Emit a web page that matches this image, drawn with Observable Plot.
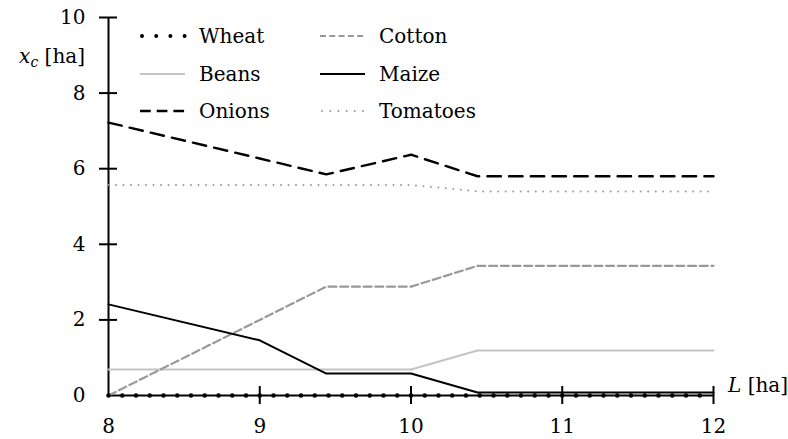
<!DOCTYPE html>
<html>
<head>
<meta charset="utf-8">
<script src="https://cdn.jsdelivr.net/npm/d3@7"></script>
<script src="https://cdn.jsdelivr.net/npm/@observablehq/plot@0.6"></script>
<style>
  html, body { margin: 0; padding: 0; background: #fff; }
  #chart { width: 788px; height: 439px; }
</style>
</head>
<body>
<div id="chart"></div>
<script>
// ---- data ----
const L = [8, 9, 9.44, 10, 10.44, 12];
const wheat    = [0, 0, 0, 0, 0, 0];
const beans    = [0.69, 0.69, 0.69, 0.69, 1.19, 1.19];
const onions   = [7.22, 6.27, 5.85, 6.37, 5.80, 5.80];
const cotton   = [0, 2.0, 2.88, 2.88, 3.43, 3.43];
const maize    = [2.41, 1.46, 0.58, 0.58, 0.08, 0.08];
const tomatoes = [5.57, 5.57, 5.57, 5.57, 5.40, 5.40];
const xTicks = [8, 9, 10, 11, 12];
const yTicks = [0, 2, 4, 6, 8, 10];

const seriesNames = ["Wheat", "Cotton", "Beans", "Maize", "Onions", "Tomatoes"];
const seriesVals = {Wheat: wheat, Cotton: cotton, Beans: beans, Maize: maize, Onions: onions, Tomatoes: tomatoes};

const styles = {
  Wheat:    {stroke: "#000", strokeWidth: 4.6, strokeDasharray: "0,13.75", strokeLinecap: "round"},
  Beans:    {stroke: "#c4c4c4", strokeWidth: 2},
  Onions:   {stroke: "#000", strokeWidth: 2.4, strokeDasharray: "13.5,8.2"},
  Cotton:   {stroke: "#999", strokeWidth: 2.2, strokeDasharray: "8,3.7"},
  Maize:    {stroke: "#000", strokeWidth: 2},
  Tomatoes: {stroke: "#999", strokeWidth: 2, strokeDasharray: "0,7.5", strokeLinecap: "round"}
};
const legendStyles = {
  Onions: {strokeDasharray: "10.7,6"},
  Cotton: {strokeDasharray: "6,3.3"},
  Tomatoes: {strokeDasharray: "0,8.2"},
  Wheat: {strokeDasharray: "0,14.2"}
};

const rows = seriesNames.map(name => L.map((x, i) => ({L: x, v: seriesVals[name][i], name})));

const drawOrder = ["Beans", "Tomatoes", "Cotton", "Onions", "Maize", "Wheat"];

const plot = Plot.plot({
  width: 788,
  height: 439,
  marginLeft: 108,
  marginRight: 75,
  marginTop: 17,
  marginBottom: 44,
  style: {fontFamily: "'DejaVu Serif', serif", fontSize: "20px", color: "#000", background: "#fff"},
  x: {domain: [8, 12]},
  y: {domain: [0, 10]},
  marks: [
    Plot.ruleX([8], {y1: 0, y2: 10, stroke: "#000", strokeWidth: 2}),
    Plot.ruleY([0], {x1: 8, x2: 12, stroke: "#000", strokeWidth: 2}),
    Plot.axisY(yTicks.filter(d => d > 0), {tickSize: 18, dx: 9, strokeWidth: 2, tickFormat: () => "", label: null}),
    Plot.axisX(xTicks.filter(d => d > 8), {tickSize: 18, dy: -9, strokeWidth: 2, tickFormat: () => "", label: null}),
    Plot.axisY(yTicks, {tickSize: 0, tickPadding: 23, label: null, fontSize: 20, tickFormat: d3.format("d")}),
    Plot.axisX(xTicks, {tickSize: 0, tickPadding: 23, label: null, fontSize: 20, tickFormat: d3.format("d")}),
    ...drawOrder.map(name => Plot.line(rows[seriesNames.indexOf(name)], {x: "L", y: "v", ...styles[name]}))
  ]
});
document.getElementById("chart").appendChild(plot);

// ---- axis titles and legend (layout only) ----
const svg = d3.select(plot);
const fam = "'DejaVu Serif', serif";
const yl = svg.append("text").attr("x", 85).attr("y", 63).attr("text-anchor", "end")
  .attr("font-family", fam).attr("font-size", 20).attr("fill", "#000");
yl.append("tspan").attr("font-style", "italic").text("x");
yl.append("tspan").attr("font-style", "italic").attr("font-size", 14).attr("dy", 4).text("c");
yl.append("tspan").attr("dy", -4).text(" [ha]");

const xl = svg.append("text").attr("x", 728).attr("y", 392).attr("text-anchor", "start")
  .attr("font-family", fam).attr("font-size", 20).attr("fill", "#000");
xl.append("tspan").attr("font-style", "italic").text("L");
xl.append("tspan").text(" [ha]");

const legendItems = [
  {name: "Wheat", col: 0, row: 0}, {name: "Beans", col: 0, row: 1}, {name: "Onions", col: 0, row: 2},
  {name: "Cotton", col: 1, row: 0}, {name: "Maize", col: 1, row: 1}, {name: "Tomatoes", col: 1, row: 2}
];
const colX = [140, 320];
const rowY = [36, 74, 111];
const lg = svg.append("g");
legendItems.forEach(it => {
  const s = {...styles[it.name], ...(legendStyles[it.name] || {})};
  const x0 = colX[it.col], y0 = rowY[it.row];
  const round = s.strokeLinecap === "round";
  lg.append("line").attr("x1", x0 + (round ? 2 : 0)).attr("x2", x0 + 45).attr("y1", y0).attr("y2", y0)
    .attr("stroke", s.stroke).attr("stroke-width", it.name === "Wheat" ? 4 : s.strokeWidth)
    .attr("stroke-dasharray", s.strokeDasharray || null)
    .attr("stroke-linecap", s.strokeLinecap || null);
  lg.append("text").attr("x", x0 + 59).attr("y", y0).attr("dy", "0.35em").attr("text-anchor", "start")
    .attr("font-family", fam).attr("font-size", 20).attr("fill", "#000").text(it.name);
});
</script>
</body>
</html>
